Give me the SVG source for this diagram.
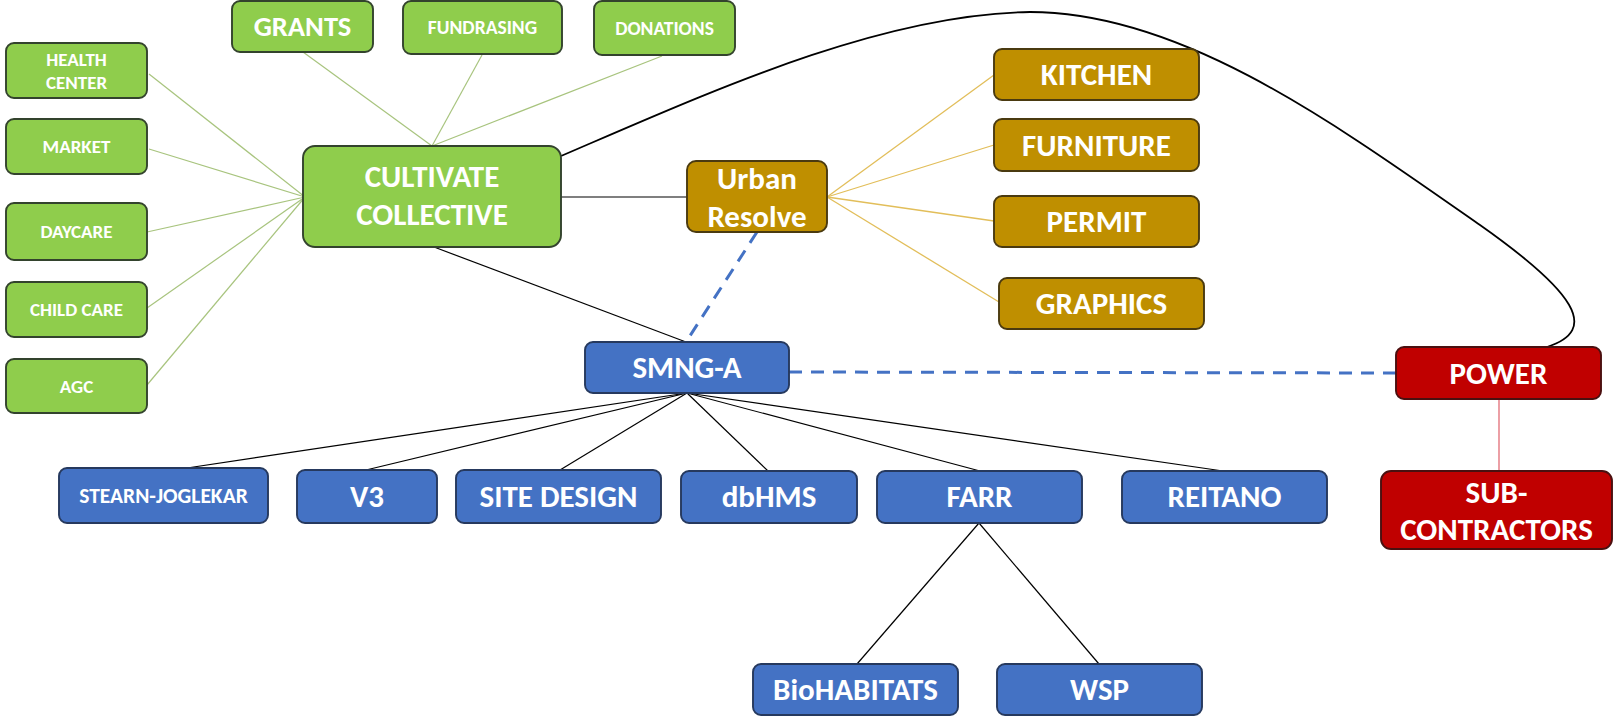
<svg xmlns="http://www.w3.org/2000/svg" width="1613" height="716" viewBox="0 0 1613 716">
<style>
.box{stroke-width:1.9}
.g{fill:#8FCD4C;stroke:#33432D}
.o{fill:#BF8F00;stroke:#4A3A10}
.b{fill:#4472C4;stroke:#26395E}
.r{fill:#C00000;stroke:#4A1010}
text{font-family:Carlito,Lato,"Open Sans","Liberation Sans",sans-serif;font-weight:bold;fill:#FFFFFF;text-anchor:middle}
.s19{font-size:19px}
.s195{font-size:19.5px}
.s21{font-size:21.5px}
.s28{font-size:28.5px}
.s31{font-size:31px}
.gl{stroke:#A8C47E;stroke-width:1.2;fill:none}
.ol{stroke:#E2BE5A;stroke-width:1.3;fill:none}
.bl{stroke:#000;stroke-width:1.2;fill:none}
.dl{stroke:#4472C4;stroke-width:3;stroke-dasharray:13 9;fill:none}
.rl{stroke:#E0606A;stroke-width:1.2;fill:none}
</style>
<rect width="1613" height="716" fill="#FFFFFF"/>
<g id="connectors">
<line class="gl" x1="149" y1="74" x2="305" y2="197"/>
<line class="gl" x1="149" y1="149" x2="305" y2="197"/>
<line class="gl" x1="147" y1="232" x2="305" y2="197"/>
<line class="gl" x1="147" y1="308" x2="305" y2="197"/>
<line class="gl" x1="147" y1="385" x2="305" y2="197"/>
<line class="gl" x1="303" y1="52" x2="432" y2="146"/>
<line class="gl" x1="482" y1="55" x2="432" y2="146"/>
<line class="gl" x1="662" y1="56" x2="432" y2="146"/>
<line class="ol" x1="827" y1="197" x2="994" y2="75"/>
<line class="ol" x1="827" y1="197" x2="994" y2="145"/>
<line class="ol" x1="827" y1="197" x2="994" y2="221"/>
<line class="ol" x1="827" y1="197" x2="999" y2="302"/>
<line class="bl" x1="561" y1="197" x2="687" y2="197"/>
<line class="bl" x1="434" y1="247" x2="686" y2="342"/>
<line class="bl" x1="687" y1="393" x2="187" y2="468"/>
<line class="bl" x1="687" y1="393" x2="366" y2="470"/>
<line class="bl" x1="687" y1="393" x2="560" y2="470"/>
<line class="bl" x1="687" y1="393" x2="768" y2="471"/>
<line class="bl" x1="687" y1="393" x2="980" y2="471"/>
<line class="bl" x1="687" y1="393" x2="1223" y2="471"/>
<line class="bl" x1="979" y1="523" x2="857" y2="664"/>
<line class="bl" x1="979" y1="523" x2="1099" y2="664"/>
<line class="dl" x1="757" y1="232" x2="686" y2="342"/>
<line class="dl" x1="789" y1="372" x2="1396" y2="373"/>
<line class="rl" x1="1499" y1="399" x2="1499" y2="471"/>
<path class="bl" style="stroke-width:1.8" d="M561,156 C710,92 880,14 1030,12 C1180,12 1330,120 1480,225 C1575,292 1600,330 1547,347"/>
</g>
<g id="grants"><rect class="box g" x="232" y="1" width="141" height="51" rx="8"/><text class="s28" x="302.5" y="36">GRANTS</text></g>
<g id="fundrasing"><rect class="box g" x="403" y="1" width="159" height="53" rx="8"/><text class="s195" x="482.5" y="34">FUNDRASING</text></g>
<g id="donations"><rect class="box g" x="594" y="1" width="141" height="54" rx="8"/><text class="s195" x="664.5" y="34.5">DONATIONS</text></g>
<g id="health-center"><rect class="box g" x="6" y="43" width="141" height="55" rx="8"/><text class="s19" x="76.5" y="65.5">HEALTH</text><text class="s19" x="76.5" y="88.5">CENTER</text></g>
<g id="market"><rect class="box g" x="6" y="119" width="141" height="55" rx="8"/><text class="s19" x="76.5" y="152.5">MARKET</text></g>
<g id="daycare"><rect class="box g" x="6" y="203" width="141" height="57" rx="8"/><text class="s19" x="76.5" y="237.5">DAYCARE</text></g>
<g id="child-care"><rect class="box g" x="6" y="282" width="141" height="55" rx="8"/><text class="s19" x="76.5" y="315.5">CHILD CARE</text></g>
<g id="agc"><rect class="box g" x="6" y="359" width="141" height="54" rx="8"/><text class="s19" x="76.5" y="392.5">AGC</text></g>
<g id="cultivate-collective"><rect class="box g" x="303" y="146" width="258" height="101" rx="12"/><text class="s31" x="432" y="187">CULTIVATE</text><text class="s31" x="432" y="225">COLLECTIVE</text></g>
<g id="urban-resolve"><rect class="box o" x="687" y="161" width="140" height="71" rx="9"/><text class="s31" x="757" y="188.5">Urban</text><text class="s31" x="757" y="226.5">Resolve</text></g>
<g id="kitchen"><rect class="box o" x="994" y="49" width="205" height="51" rx="8"/><text class="s31" x="1096.5" y="85">KITCHEN</text></g>
<g id="furniture"><rect class="box o" x="994" y="119" width="205" height="52" rx="8"/><text class="s31" x="1096.5" y="155.5">FURNITURE</text></g>
<g id="permit"><rect class="box o" x="994" y="196" width="205" height="51" rx="8"/><text class="s31" x="1096.5" y="232">PERMIT</text></g>
<g id="graphics"><rect class="box o" x="999" y="278" width="205" height="51" rx="8"/><text class="s31" x="1101.5" y="314">GRAPHICS</text></g>
<g id="smng-a"><rect class="box b" x="585" y="342" width="204" height="51" rx="8"/><text class="s31" x="687" y="378">SMNG-A</text></g>
<g id="power"><rect class="box r" x="1396" y="347" width="205" height="52" rx="8"/><text class="s31" x="1498.5" y="383.5">POWER</text></g>
<g id="sub-contractors"><rect class="box r" x="1381" y="471" width="231" height="78" rx="10"/><text class="s31" x="1496.5" y="503">SUB-</text><text class="s31" x="1496.5" y="540">CONTRACTORS</text></g>
<g id="stearn-joglekar"><rect class="box b" x="59" y="468" width="209" height="55" rx="8"/><text class="s21" x="163.5" y="502.5">STEARN-JOGLEKAR</text></g>
<g id="v3"><rect class="box b" x="297" y="470" width="140" height="53" rx="8"/><text class="s31" x="367" y="507">V3</text></g>
<g id="site-design"><rect class="box b" x="456" y="470" width="205" height="53" rx="8"/><text class="s31" x="558.5" y="507">SITE DESIGN</text></g>
<g id="dbhms"><rect class="box b" x="681" y="471" width="176" height="52" rx="8"/><text class="s31" x="769" y="507">dbHMS</text></g>
<g id="farr"><rect class="box b" x="877" y="471" width="205" height="52" rx="8"/><text class="s31" x="979.5" y="507">FARR</text></g>
<g id="reitano"><rect class="box b" x="1122" y="471" width="205" height="52" rx="8"/><text class="s31" x="1224.5" y="507">REITANO</text></g>
<g id="biohabitats"><rect class="box b" x="753" y="664" width="205" height="51" rx="8"/><text class="s31" x="855.5" y="700">BioHABITATS</text></g>
<g id="wsp"><rect class="box b" x="997" y="664" width="205" height="51" rx="8"/><text class="s31" x="1099.5" y="700">WSP</text></g>
</svg>
